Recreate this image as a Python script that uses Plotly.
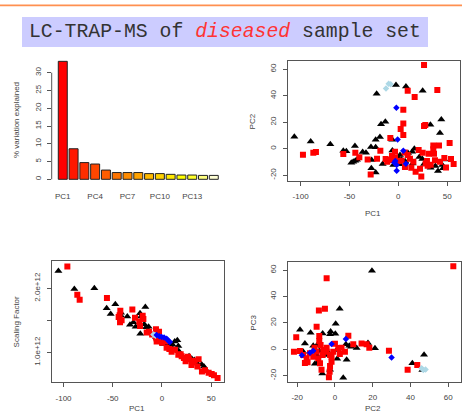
import plotly.graph_objects as go

W, H = 462, 414

# ---------------- data ----------------
title_plain_1 = "LC-TRAP-MS of "
title_em = "diseased"
title_plain_2 = " sample set"

pc_names = ["PC1", "PC2", "PC3", "PC4", "PC5", "PC6", "PC7", "PC8",
            "PC9", "PC10", "PC11", "PC12", "PC13", "PC14", "PC15"]
pct_var = [33.2, 8.6, 4.7, 4.3, 2.6, 1.9, 1.9, 1.9, 1.6, 1.6, 1.4, 1.2, 1.2, 1.1, 1.1]
bar_colors = ["#FF0000", "#FF1700", "#FF2E00", "#FF4600", "#FF5D00", "#FF7400",
              "#FF8B00", "#FFA200", "#FFB900", "#FFD100", "#FFE800", "#FFFF00",
              "#FFFF2A", "#FFFF80", "#FFFFD5"]
bar_ticks = ["PC1", "PC4", "PC7", "PC10", "PC13"]
pct_ticks = [0, 5, 10, 15, 20, 25, 30]

# Panel 2: PC1 vs PC2
p2_red_x = [26.3, 39.9, 9.6, 16.7, 5.1, 5.1, 26.3, 27.6, 2.4, 5.1, -8.2, 52.5, 35.8, 41.6, 35.8,
            31.0, 36.5, 20.8, 24.9, -3.4, -18.4, -44.0, -56.3, -84.3, -87.0, -97.6, -39.9, -31.4,
            -21.8, -13.0, -8.5, -4.4, 0.0, 3.4, 9.6, 11.9, 6.8, 13.3, 17.7, 22.2, 23.5, 28.0, 29.3,
            33.1, 37.5, 42.6, 47.1, 53.9, 56.6, 48.8, -28.3, -11.3, -6.5, 15.4, 6.5, 30.0, -3.4]
p2_red_y = [63.1, 44.3, 43.8, 39.0, 29.4, 19.1, 17.1, 17.9, 14.8, 10.3, 8.1, 4.3, 2.5, 2.5, -0.5,
            -3.8, -3.8, -1.0, -3.0, -2.3, -1.5, -3.0, -4.0, -2.5, -3.0, -4.5, -6.5, -8.1,
            -7.5, -7.8, -8.6, -8.1, -9.3, -9.1, -4.8, -7.5, -13.8, -14.3, -17.4, -15.1, -20.9, -11.1, -9.3,
            -12.1, -8.8, -9.8, -7.0, -7.8, -11.6, -14.1, -19.4, -9.8, -5.3, -9.8, -2.8, -12.8, -6.8]
p2_blk_x = [-106.4, -89.7, -69.6, -22.2, -2.4, 7.8, 24.9, 44.0, 32.8, 42.6, -13.3, -17.7, -18.8,
            -23.2, -6.1, -44.4, -28.0, -23.2, -56.3, -53.2, -36.5, -33.1, -48.1, -46.1, -44.0, -42.3,
            -27.3, -23.2, -27.6, -16.0, -6.1, 0.3, 3.4, -1.0, 1.7, 7.2, 9.9, 14.3, 16.4, 1.7, 14.7,
            24.6, 26.3, 33.1, 37.9, 40.6, 45.0, 45.7, 47.1, 21.5, 5.1, -5.1]
p2_blk_y = [9.1, 5.5, 3.3, 41.5, 48.1, 47.0, 43.8, 22.1, 18.1, 11.8, 20.4, 18.4, 8.8,
            6.8, 6.8, 2.0, 1.3, 1.0, -1.5, -2.0, -2.5, -3.0, -10.6, -9.8, -9.1, -8.3,
            -8.6, -17.9, -14.8, -11.6, -1.3, -7.3, -8.3, -11.1, -11.8, -9.6, -3.3, -2.3, 0.0, -4.8, -11.1,
            -7.8, -11.6, -14.3, -13.1, -16.9, -12.3, -14.8, -8.1, -6.3, -9.3, -12.3]
p2_blu_x = [-2.0, -0.7, 5.1, 7.8, -4.1, -1.7, -1.7, -3.1]
p2_blu_y = [30.9, 7.0, -1.5, -11.3, -10.6, -12.3, -16.6, -9.3]
p2_lb_x = [-9.9, -7.8, -12.6]
p2_lb_y = [49.1, 48.6, 45.5]

# Panel 3: PC1 vs Scaling Factor (units of 1e12)
p3_blk_x = [-105.2, -89.0, -68.7, -47.4, -56.2, -52.1, -41.6, -35.2, -32.5, -26.7, -22.3, -21.3,
            -16.9, -20.5, -16.2, -13.6, -22.0, -7.4, -6.0, -4.7, 1.4, 5.8, 10.8, 15.6, 12.9, 16.6,
            8.0, 27.5, 30.2, 32.9, 35.2, 40.3, 42.6, 44.1, -42.0, -29.0, -18.0, 2.0, 17.0]
p3_blk_y = [2.27, 1.99, 2.00, 1.75, 1.69, 1.60, 1.62, 1.56, 1.43, 1.40, 1.61, 1.56,
            1.71, 1.50, 1.39, 1.40, 1.29, 1.27, 1.24, 1.20, 1.13, 1.14, 1.12, 1.19, 1.17, 1.10,
            1.11, 0.94, 0.90, 0.88, 0.84, 0.81, 0.78, 0.74, 1.58, 1.47, 1.44, 1.17, 1.02]
p3_red_x = [-96.1, -86.0, -83.6, -55.9, -42.3, -43.0, -44.0, -42.6, -41.0, -30.1, -27.4, -23.0,
            -19.6, -18.9, -22.3, -15.5, -13.2, -6.1, -3.0, -6.1, -5.4, -2.0, 3.4, 4.7, 7.5, 9.8,
            13.2, 16.6, 20.0, 22.3, 24.0, 26.4, 27.4, 31.5, 33.2, 37.2, 40.6, 43.7, 47.4, 50.5,
            52.8, 56.5, -10.0, 0.0, 30.0, 36.0, 19.0]
p3_red_y = [2.34, 1.90, 1.82, 1.85, 1.65, 1.58, 1.55, 1.47, 1.50, 1.67, 1.54, 1.48,
            1.57, 1.52, 1.41, 1.31, 1.32, 1.36, 1.32, 1.23, 1.17, 1.21, 1.17, 1.07, 1.05, 1.01,
            1.04, 0.96, 0.94, 0.91, 0.86, 0.93, 0.89, 0.84, 0.87, 0.89, 0.70, 0.72, 0.68, 0.66,
            0.64, 0.60, 1.28, 1.15, 0.80, 0.78, 0.97]
p3_blu_x = [-5.4, -2.7, -0.3, 2.1, 4.8, 6.5, 8.0]
p3_blu_y = [1.27, 1.25, 1.24, 1.23, 1.21, 1.18, 1.16]
p3_lb_x = [-7.5, -6.5, -8.7]
p3_lb_y = [1.27, 1.26, 1.28]
sf_ticks = [1.0e12, 1.5e12, 2.0e12]
sf_ticktext = ["1.0e+12", "", "2.0e+12"]

# Panel 4: PC2 vs PC3
p4_red_x = [62.7, -4.4, -8.5, -5.3, -9.7, -8.3, -20.5, 7.1, -21.7, 28.6, 38.5, 43.6, -3.2, -7.1,
            -14.5, -15.9, -1.8, -2.6, 2.6, 14.1, 18.2, 16.8, 9.7, 3.5, 0.0, 1.8, -7.9, -11.5,
            -13.2, -9.7, -6.2, -7.6, -4.4, -2.6, -18.5, -16.8, -15.0, -8.8, -6.5, -0.9, 5.3,
            -4.4, -10.8, -8.3, -2.8, -1.8]
p4_red_y = [62.9, 53.8, 29.5, 30.8, 17.2, 10.1, 9.1, 10.4, -1.8, -1.0, -15.4, -11.9, -21.2, -15.4,
            -9.8, -10.4, -9.3, -12.6, -3.5, 4.5, 1.3, 3.8, 3.8, 1.3, 4.3, 1.0, -10.6, -5.6,
            -3.0, -1.8, -0.5, 3.3, 1.3, -4.3, -1.3, -4.3, -6.8, -6.8, -4.3, -1.8, -1.8,
            -1.8, 1.3, 6.3, -16.9, -5.6]
p4_blk_x = [19.6, 2.5, 0.4, -18.5, -12.9, -2.3, 0.2, -2.6, -15.9, -9.4, 11.5, 21.2, 17.5, 8.5,
            5.8, 7.6, -3.5, 1.2, 6.2, 4.4, -6.7, -2.6, -10.6, -9.2, 47.2, 41.0, 46.3, -12.9,
            -16.8, -8.3, -5.3, -3.0, -8.3, -9.7, 0.9, -11.5, -6.5]
p4_blk_y = [59.6, 30.8, 19.4, 14.9, 12.6, 13.6, 11.9, 11.4, 4.5, 3.3, 1.0, 0.8, 4.8, 2.0,
            3.8, 2.8, -4.3, -7.1, -7.8, -21.5, -18.2, -15.4, -10.9, -10.1, -4.0, -10.6, -15.7, -3.8,
            -1.8, -1.3, -3.0, -3.3, 4.5, -4.3, -0.5, 2.8, 12.1]
p4_blu_x = [5.8, 30.0, -17.5, -11.5, -13.2, -1.8]
p4_blu_y = [7.8, -6.1, -4.5, -1.0, -2.5, 4.0]
p4_lb_x = [48.0, 46.8, 45.9]
p4_lb_y = [-15.2, -15.7, -14.4]

pc_ticks_wide = [-100, -50, 0, 50]
pc_ticks_narrow = [-20, 0, 20, 40, 60]

# ---------------- styles ----------------
RED, BLK, BLU, LB = "#FF0000", "#000000", "#0000FF", "#ADD8E6"
AX = "#555555"
TXT = "#444444"
FONT = "Liberation Sans, Arial, sans-serif"


def dx(a, b):
    return [a / W, b / W]


def dy(top, bottom):
    return [1 - bottom / H, 1 - top / H]


fig = go.Figure()

# bar chart
fig.add_trace(go.Bar(x=pc_names, y=pct_var, marker=dict(color=bar_colors, line=dict(color="#222222", width=1)),
                     xaxis="x", yaxis="y", showlegend=False))


def add_groups(xa, ya, groups):
    for xs, ys, color, sym, size in groups:
        fig.add_trace(go.Scatter(x=xs, y=ys, mode="markers", xaxis=xa, yaxis=ya, showlegend=False,
                                 marker=dict(color=color, symbol=sym, size=size, line=dict(width=0))))


add_groups("x2", "y2", [(p2_blk_x, p2_blk_y, BLK, "triangle-up", 7),
                        (p2_red_x, p2_red_y, RED, "square", 6),
                        (p2_blu_x, p2_blu_y, BLU, "diamond", 5),
                        (p2_lb_x, p2_lb_y, LB, "diamond", 5)])
add_groups("x3", "y3", [(p3_blk_x, [v * 1e12 for v in p3_blk_y], BLK, "triangle-up", 7),
                        (p3_red_x, [v * 1e12 for v in p3_red_y], RED, "square", 6),
                        (p3_lb_x, [v * 1e12 for v in p3_lb_y], LB, "diamond", 5),
                        (p3_blu_x, [v * 1e12 for v in p3_blu_y], BLU, "diamond", 5)])
add_groups("x4", "y4", [(p4_blk_x, p4_blk_y, BLK, "triangle-up", 7),
                        (p4_red_x, p4_red_y, RED, "square", 6),
                        (p4_blu_x, p4_blu_y, BLU, "diamond", 5),
                        (p4_lb_x, p4_lb_y, LB, "diamond", 5)])

tickfont = dict(family=FONT, size=8, color=TXT)
box = dict(showline=True, mirror=True, linecolor=AX, linewidth=1, ticks="outside", ticklen=4,
           tickcolor=AX, tickwidth=1, showgrid=False, zeroline=False, tickfont=tickfont, tickmode="array")


def xaxis_box(domain, rng, tv, anchor):
    return dict(box, domain=domain, range=rng, tickvals=tv, ticktext=[str(v) for v in tv], anchor=anchor,
                ticklabelstandoff=4)


def yaxis_box(domain, rng, tv, anchor, tt=None):
    return dict(box, domain=domain, range=rng, tickvals=tv,
                ticktext=tt if tt is not None else [str(v) for v in tv], anchor=anchor, tickangle=-90,
                ticklabelstandoff=4)


fig.update_layout(
    width=W, height=H, autosize=False,
    margin=dict(l=0, r=0, t=0, b=0),
    paper_bgcolor="white", plot_bgcolor="white",
    bargap=1 / 6,
    xaxis=dict(domain=dx(51.7, 227), range=[-1.028, 15.225], type="category", showline=False,
               ticks="", tickmode="array", tickvals=bar_ticks, ticktext=bar_ticks, showgrid=False,
               zeroline=False, tickfont=tickfont, anchor="y", ticklabelstandoff=7),
    yaxis=dict(domain=dy(58, 183), range=[-1.04, 34.14], tickmode="array", tickvals=pct_ticks,
               ticktext=[str(v) for v in pct_ticks], ticks="outside", ticklen=4, tickcolor=AX,
               showline=False, showgrid=False, zeroline=False, tickangle=-90, tickfont=tickfont, anchor="x",
               ticklabelstandoff=3),
    xaxis2=xaxis_box(dx(288.3, 459.5), [-112.6, 62.6], pc_ticks_wide, "y2"),
    yaxis2=yaxis_box(dy(60.7, 180.5), [-24.0, 66.4], [-20, 0, 20, 40, 60], "x2"),
    xaxis3=xaxis_box(dx(52.3, 224), [-111.4, 63.0], pc_ticks_wide, "y3"),
    yaxis3=yaxis_box(dy(261, 382), [0.536e12, 2.427e12], sf_ticks, "x3", sf_ticktext),
    xaxis4=xaxis_box(dx(288.3, 460.5), [-24.7, 66.5], pc_ticks_narrow, "y4"),
    yaxis4=yaxis_box(dy(261.7, 381.7), [-24.5, 66.4], [-20, 0, 20, 40, 60], "x4"),
)

shapes = [
    # orange rule at top of slide
    dict(type="line", xref="paper", yref="paper", x0=0, x1=1, y0=1 - 5.3 / H, y1=1 - 5.3 / H,
         line=dict(color="#FF9050", width=1.7)),
    # title box
    dict(type="rect", xref="paper", yref="paper", x0=22 / W, x1=428 / W, y0=1 - 47 / H, y1=1 - 17 / H,
         fillcolor="#CCCCFF", line=dict(width=0), layer="below"),
    # bar chart y axis line (0..30)
    dict(type="line", xref="paper", yref="y", x0=51.7 / W, x1=51.7 / W, y0=pct_ticks[0], y1=pct_ticks[-1],
         line=dict(color=AX, width=1)),
]
fig.update_layout(shapes=shapes)

afont = dict(family=FONT, size=8, color=TXT)


def ann(text, px, py, angle=0, yanchor="middle"):
    return dict(text=text, x=px / W, y=1 - py / H, xref="paper", yref="paper", showarrow=False,
                textangle=angle, font=afont, xanchor="center", yanchor=yanchor)


annotations = [
    dict(text=title_plain_1 + "<i><span style='color:#FF3333'>" + title_em + "</span></i>" + title_plain_2,
         x=225 / W, y=1 - 32 / H, xref="paper", yref="paper", showarrow=False,
         font=dict(family="Liberation Mono, Courier New, monospace", size=19.8, color="#333333"),
         xanchor="center", yanchor="middle"),
    ann("% variation explained", 17, 120, -90),
    ann("PC2", 252.7, 121.7, -90),
    ann("PC1", 372.7, 213.3),
    ann("Scaling Factor", 16.7, 321.7, -90),
    ann("PC1", 137, 401.5, 0, "top"),
    ann("PC3", 252.7, 323, -90),
    ann("PC2", 373.3, 401.5, 0, "top"),
]
fig.update_layout(annotations=annotations)

fig.write_html("out.html", config={"displayModeBar": False},
               post_script="document.body.style.margin='0';document.body.style.overflow='hidden';")
